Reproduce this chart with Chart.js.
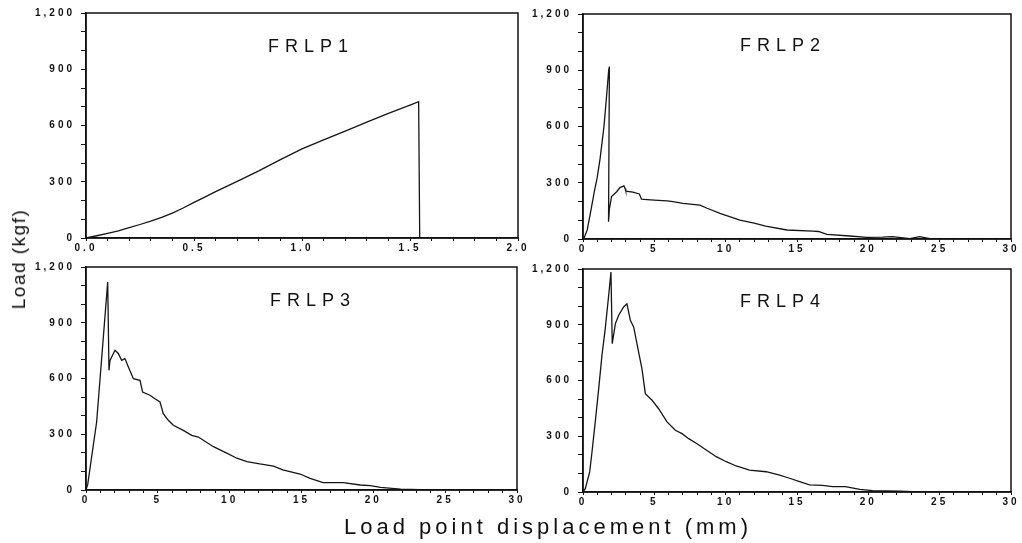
<!DOCTYPE html>
<html lang="en">
<head>
  <meta charset="UTF-8" />
  <title>FRLP load - displacement</title>
  <script src="https://cdn.jsdelivr.net/npm/chart.js"></script>
  <style>
    body {
      margin: 0;
      width: 1022px;
      height: 543px;
      position: relative;
      overflow: hidden;
      background: #fff;
      font-family: "Liberation Sans", Arial, sans-serif;
      color: #111;
    }

    canvas {
      position: absolute;
      left: 0;
      top: 0;
    }

    .label {
      position: absolute;
      transform: translate(-50%, -50%);
      white-space: nowrap;
    }

    .panel-title {
      font-size: 18px;
      letter-spacing: 6px;
    }

    #yTitle {
      font-size: 19px;
      letter-spacing: 1.5px;
      transform: translate(-50%, -50%) rotate(-90deg);
    }

    #xTitle {
      font-size: 22px;
      letter-spacing: 4px;
    }
  </style>
</head>
<body>
  <canvas id="c1" width="1022" height="543"></canvas>
  <canvas id="c2" width="1022" height="543"></canvas>
  <canvas id="c3" width="1022" height="543"></canvas>
  <canvas id="c4" width="1022" height="543"></canvas>

  <div class="label panel-title" style="left:311px; top:46px;">FRLP1</div>
  <div class="label panel-title" style="left:783px; top:45px;">FRLP2</div>
  <div class="label panel-title" style="left:313px; top:300px;">FRLP3</div>
  <div class="label panel-title" style="left:783px; top:301px;">FRLP4</div>

  <div class="label" id="yTitle" style="left:19px; top:259px;">Load (kgf)</div>
  <div class="label" id="xTitle" style="left:548px; top:527px;">Load point displacement (mm)</div>

  <script>
    // FRLP1 - displacement (mm) / load (kgf)
    const p1X = [0, 0.05, 0.1, 0.15, 0.2, 0.25, 0.3, 0.35, 0.4, 0.45, 0.5, 0.55, 0.6, 0.7, 0.8, 0.9, 1.0, 1.1, 1.2, 1.3, 1.4, 1.5, 1.54, 1.545];
    const p1Y = [0, 12, 25, 38, 55, 72, 90, 110, 133, 160, 190, 218, 247, 302, 358, 418, 475, 523, 570, 618, 665, 709, 727, 0];

    // FRLP2
    const p2X = [0.05, 0.3, 0.5, 0.8, 1.0, 1.2, 1.47, 1.65, 1.8, 1.85, 1.79, 1.85, 2.0, 2.36, 2.59, 2.87, 2.95, 3.0, 3.5, 3.95, 4.1, 4.5, 5.0, 5.9, 6.3, 7.0, 8.2, 8.7, 9.6, 11.0, 12.0, 12.8, 14.3, 16.1, 16.5, 17.1, 18.7, 19.9, 21.0, 21.7, 22.9, 23.6, 24.3, 25.0, 26.4];
    const p2Y = [0, 50, 130, 255, 330, 430, 600, 760, 900, 920, 92, 160, 226, 252, 274, 283, 270, 255, 250, 240, 212, 210, 207, 203, 199, 190, 181, 164, 137, 101, 85, 69, 48, 42, 40, 25, 16, 9, 10, 13, 2, 13, 2, 1, 0];

    // FRLP3
    const p3X = [0, 0.12, 0.74, 1.51, 1.6, 1.67, 2.02, 2.25, 2.48, 2.71, 2.95, 3.3, 3.76, 3.94, 4.45, 4.8, 5.15, 5.38, 5.73, 6.08, 6.77, 7.36, 7.82, 8.87, 9.8, 10.5, 11.2, 12.1, 13.05, 13.7, 14.9, 15.6, 16.5, 17.9, 19.1, 19.8, 20.5, 21.9, 23.3, 25.4, 26.5];
    const p3Y = [0, 30, 366, 1119, 644, 697, 752, 735, 698, 707, 662, 599, 590, 527, 510, 491, 474, 411, 375, 348, 321, 294, 285, 233, 198, 171, 153, 140, 129, 108, 86, 63, 40, 40, 27, 23, 14, 5, 2, 0, 0];

    // FRLP4
    const p4X = [0, 0.16, 0.47, 0.63, 0.86, 1.1, 1.33, 1.56, 1.8, 1.96, 2.05, 2.27, 2.5, 2.85, 3.08, 3.32, 3.55, 3.9, 4.13, 4.37, 4.84, 5.3, 5.89, 6.47, 6.94, 7.41, 7.99, 8.64, 9.34, 10.04, 10.74, 11.67, 12.84, 13.78, 14.48, 15.18, 15.88, 16.8, 17.5, 18.4, 19.4, 20.3, 22.2, 23.1, 24.5, 26];
    const p4Y = [0, 18, 108, 215, 377, 556, 736, 879, 1059, 1184, 798, 906, 951, 996, 1013, 924, 888, 753, 664, 529, 494, 448, 377, 332, 314, 287, 260, 226, 190, 163, 140, 118, 109, 91, 74, 56, 38, 36, 29, 29, 14, 7, 4, 2, 0, 0];

    const loadTicks = [0, 300, 600, 900, 1200];
    const loadTickLabels = ['0', '300', '600', '900', '1,200'];

    const Y_AXIS_W = 60;
    const X_AXIS_H = 30;
    const W = 1022, H = 543;

    // spaced-out tick text and the closed frame round each plot
    const framePlugin = {
      id: 'frame',
      beforeDraw(chart) {
        chart.ctx.letterSpacing = '3px';
      },
      afterDraw(chart) {
        const { ctx, chartArea: a } = chart;
        ctx.save();
        ctx.strokeStyle = '#111';
        ctx.lineWidth = 1.5;
        ctx.strokeRect(a.left, a.top, a.right - a.left, a.bottom - a.top);
        ctx.restore();
      }
    };

    function makeChart(id, xs, ys, area, xMax, xStep, xLabelEvery, xDecimals) {
      const ctx = document.getElementById(id).getContext('2d');
      const pts = xs.map((x, i) => ({ x: x, y: ys[i] }));
      return new Chart(ctx, {
        type: 'line',
        data: {
          datasets: [{
            data: pts,
            borderColor: '#151515',
            borderWidth: 1.3,
            pointRadius: 0,
            tension: 0,
            fill: false
          }]
        },
        options: {
          responsive: false,
          animation: false,
          events: [],
          layout: {
            padding: {
              left: area.left - Y_AXIS_W,
              right: W - area.right,
              top: area.top,
              bottom: H - area.bottom - X_AXIS_H
            }
          },
          plugins: { legend: { display: false }, tooltip: { enabled: false } },
          scales: {
            x: {
              type: 'linear',
              min: 0,
              max: xMax,
              afterFit(s) { s.height = X_AXIS_H; },
              border: { color: '#111', width: 1.5 },
              grid: { drawOnChartArea: false, tickLength: 3, color: '#111' },
              ticks: {
                stepSize: xStep,
                autoSkip: false,
                maxRotation: 0,
                padding: 1,
                color: '#111',
                font: { family: 'Liberation Sans', size: 10, weight: 'bold' },
                callback(v) {
                  const k = Math.round(v / xStep);
                  return k % xLabelEvery === 0 ? (k * xStep).toFixed(xDecimals) : '';
                }
              }
            },
            y: {
              min: 0,
              max: 1200,
              afterFit(s) { s.width = Y_AXIS_W; },
              border: { color: '#111', width: 1.5 },
              grid: { drawOnChartArea: false, tickLength: 5, color: '#111' },
              ticks: {
                stepSize: 100,
                autoSkip: false,
                padding: 6,
                color: '#111',
                font: { family: 'Liberation Sans', size: 10, weight: 'bold' },
                callback(v) {
                  const i = loadTicks.indexOf(Math.round(v));
                  return i >= 0 ? loadTickLabels[i] : '';
                }
              }
            }
          }
        },
        plugins: [framePlugin]
      });
    }

    makeChart('c1', p1X, p1Y, { left: 86, right: 518, top: 13, bottom: 238 }, 2, 0.1, 5, 1);
    makeChart('c2', p2X, p2Y, { left: 583, right: 1011, top: 14, bottom: 239 }, 30, 1, 5, 0);
    makeChart('c3', p3X, p3Y, { left: 86, right: 517, top: 267, bottom: 490 }, 30, 1, 5, 0);
    makeChart('c4', p4X, p4Y, { left: 583, right: 1011, top: 269, bottom: 492 }, 30, 1, 5, 0);
  </script>
</body>
</html>
